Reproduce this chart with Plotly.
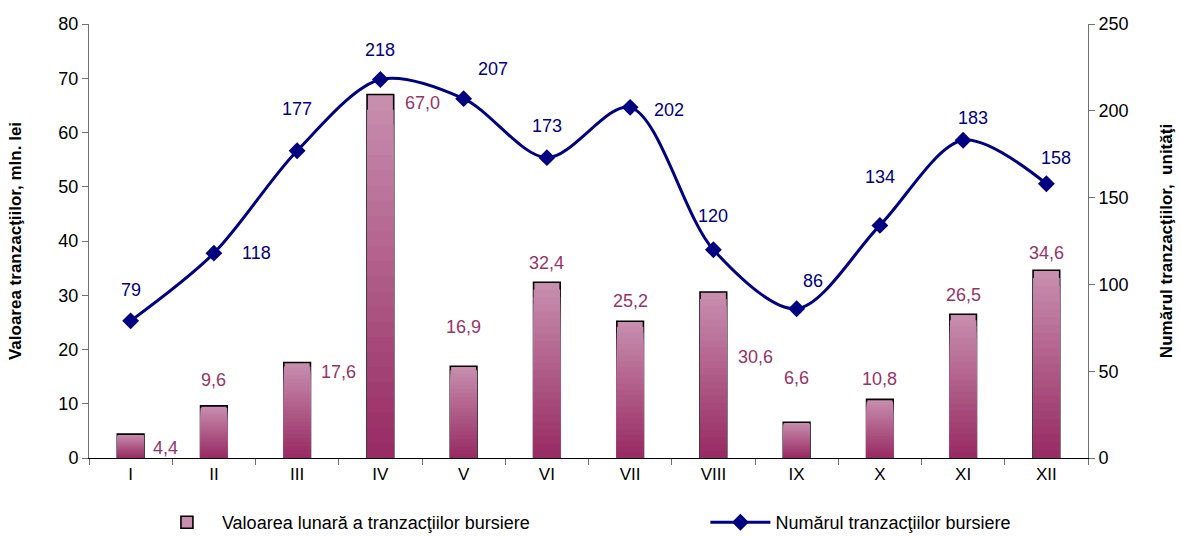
import plotly.graph_objects as go

# Data
months = ["I", "II", "III", "IV", "V", "VI", "VII", "VIII", "IX", "X", "XI", "XII"]
value_mln = [4.4, 9.6, 17.6, 67.0, 16.9, 32.4, 25.2, 30.6, 6.6, 10.8, 26.5, 34.6]
num_trans = [79, 118, 177, 218, 207, 173, 202, 120, 86, 134, 183, 158]

BAR_LIGHT = (200, 142, 174)
BAR_DARK = (152, 44, 100)
LINE_COLOR = "#000080"
BAR_LABEL_COLOR = "#993366"
AXIS_COLOR = "#707070"
FONT = "Liberation Sans, Arial, sans-serif"

# label offsets (pixels) for data labels
bar_label_shift = [(35, -14), (0, 26), (41, -9), (42, -8), (0, 39), (0, 19),
                   (0, 20), (42, -65), (0, 44), (0, 20), (0, 19), (0, 17)]
line_label_shift = [(0, 31), (43, 0), (0, 42), (0, 30), (29, 30), (0, 32),
                    (39, -3), (0, 34), (16, 28), (0, 48), (10, 22), (10, 26)]


def _fmt(v):
    return f"{v:.1f}".replace(".", ",")


fig = go.Figure()

# gradient-like bars: layered overlay bars, darker towards the base
steps = 24
for i in range(steps):
    t = i / (steps - 1)
    rgb = tuple(int(BAR_LIGHT[k] + (BAR_DARK[k] - BAR_LIGHT[k]) * t) for k in range(3))
    frac = 1 - i / steps
    fig.add_trace(
        go.Bar(
            x=months,
            y=[v * frac for v in value_mln],
            marker=dict(
                color="rgb(%d,%d,%d)" % rgb,
                line=dict(color="black" if i == 0 else "rgba(0,0,0,0)", width=1.6 if i == 0 else 0),
            ),
            width=0.32,
            name="Valoarea lunară a tranzacţiilor bursiere",
            showlegend=(i == 0),
            legend="legend",
            hoverinfo="skip" if i else None,
        )
    )

fig.add_trace(
    go.Scatter(
        x=months,
        y=num_trans,
        yaxis="y2",
        mode="lines+markers",
        name="Numărul tranzacţiilor bursiere",
        line=dict(color=LINE_COLOR, width=3, shape="spline", smoothing=0.9),
        marker=dict(symbol="diamond", size=13, color=LINE_COLOR),
        legend="legend2",
    )
)

annotations = []
for m, v, (dx, dy) in zip(months, value_mln, bar_label_shift):
    annotations.append(dict(
        x=m, y=v, xref="x", yref="y", text=_fmt(v), showarrow=False,
        xshift=dx, yshift=dy, font=dict(family=FONT, size=18, color=BAR_LABEL_COLOR),
    ))
for m, v, (dx, dy) in zip(months, num_trans, line_label_shift):
    annotations.append(dict(
        x=m, y=v, xref="x", yref="y2", text=str(v), showarrow=False,
        xshift=dx, yshift=dy, font=dict(family=FONT, size=18, color=LINE_COLOR),
    ))

legend_style = dict(
    orientation="h", xanchor="left", y=-0.106, yanchor="top",
    font=dict(size=18), itemwidth=60, bgcolor="rgba(0,0,0,0)",
)

fig.update_layout(
    width=1181,
    height=536,
    paper_bgcolor="white",
    plot_bgcolor="white",
    barmode="overlay",
    margin=dict(l=89, r=93, t=24, b=78, autoexpand=False),
    font=dict(family=FONT, size=17, color="black"),
    annotations=annotations,
    xaxis=dict(
        range=[-0.5, len(months) - 0.5],
        showline=True, linecolor="black", linewidth=1.2,
        ticks="outside", tickson="boundaries", ticklen=6, tickcolor=AXIS_COLOR,
        showgrid=False, tickfont=dict(size=17), automargin=False,
    ),
    yaxis=dict(
        range=[0, 80], dtick=10, showline=True, linecolor=AXIS_COLOR, linewidth=1,
        ticks="outside", ticklen=6, tickcolor=AXIS_COLOR, showgrid=False, zeroline=False,
        tickfont=dict(size=18), automargin=False,
        title=dict(text="<b>Valoarea tranzacţiilor, mln. lei</b>", font=dict(size=17), standoff=32),
    ),
    yaxis2=dict(
        range=[0, 250], dtick=50, overlaying="y", side="right",
        showline=True, linecolor=AXIS_COLOR, linewidth=1,
        ticks="outside", ticklen=6, tickcolor=AXIS_COLOR, showgrid=False, zeroline=False,
        tickfont=dict(size=18), automargin=False,
        title=dict(text="<b>Numărul tranzacţiilor,  unităţi</b>", font=dict(size=17), standoff=32),
    ),
    legend=dict(legend_style, x=0.063),
    legend2=dict(legend_style, x=0.617),
    showlegend=True,
)

# the page body has a default 8px margin; remove it so the figure fills the window
fig.write_html(
    "out.html",
    config={"displayModeBar": False},
    post_script="document.body.style.margin='0';",
)
